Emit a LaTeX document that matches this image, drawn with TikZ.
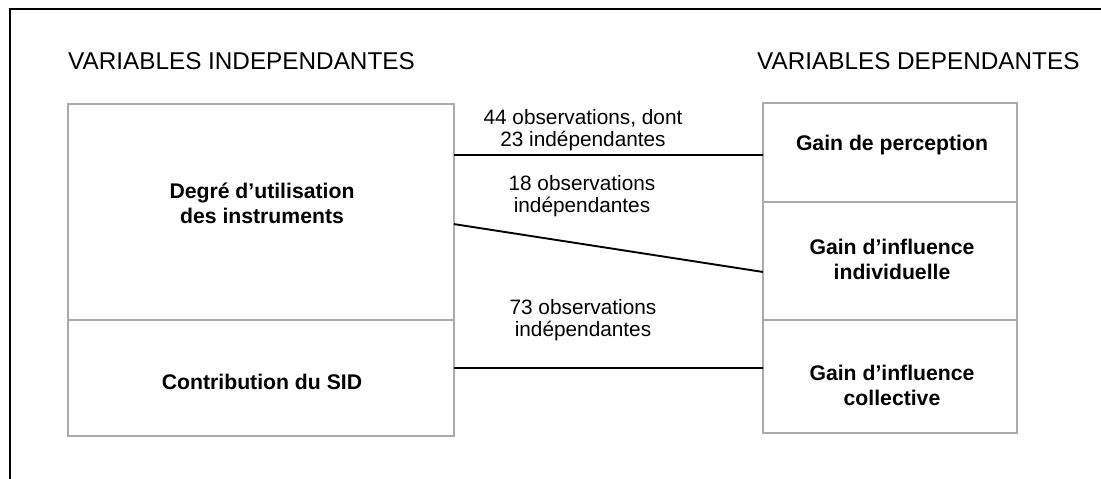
\documentclass[tikz,border=0pt]{standalone}
\usepackage{fontspec}
\setmainfont{Liberation Sans}
\usetikzlibrary{calc}
\definecolor{boxgray}{HTML}{ABABAB}
\begin{document}
\begin{tikzpicture}[x=1pt,y=-1pt,
  cell/.style={draw=boxgray, line width=2.8pt, rectangle, inner sep=0pt, outer sep=0pt},
  header/.style={font=\fontsize{24.3}{28}\selectfont, anchor=base west, inner sep=0pt},
  boxtext/.style={font=\fontsize{21.2}{25}\selectfont\bfseries, align=center, inner sep=0pt},
  obs/.style={font=\fontsize{20.8}{22}\selectfont, align=center, inner sep=0pt},
  link/.style={draw=black, line width=1.9pt}
]
\useasboundingbox (0,0) rectangle (1101,479);

% frame (top and left edges)
\coordinate (frameA) at (10,479);
\coordinate (frameB) at (10,9);
\coordinate (frameC) at (1101,9);
\draw[line width=1.8pt] (frameA) -- (frameB) -- (frameC);

% headers
\node[header] (hindep) at (68,69) {VARIABLES INDEPENDANTES};
\node[header] (hdep) at (757,69) {VARIABLES DEPENDANTES};

% independent variables
\node[cell, minimum width=386pt, minimum height=216pt] (deg) at (261,212) {};
\node[cell, minimum width=386pt, minimum height=116pt] (sid) at (261,378) {};
\node[boxtext] (tdeg) at (262,203) {Degré d’utilisation\\des instruments};
\node[boxtext] (tsid) at (262,382) {Contribution du SID};

% dependent variables
\node[cell, minimum width=254pt, minimum height=99pt] (perc) at (890,152.5) {};
\node[cell, minimum width=254pt, minimum height=118pt] (indiv) at (890,261) {};
\node[cell, minimum width=254pt, minimum height=113pt] (coll) at (890,376.5) {};
\node[boxtext] (tperc) at (892,145) {Gain de perception};
\node[boxtext] (tindiv) at (892,259) {Gain d’influence\\individuelle};
\node[boxtext] (tcoll) at (892,385) {Gain d’influence\\collective};

% relations
\draw[link] ($(deg.north east)!0.236!(deg.south east)$) -- ($(perc.north west)!0.525!(perc.south west)$);
\draw[link] ($(deg.north east)!0.556!(deg.south east)$) -- ($(indiv.north west)!0.593!(indiv.south west)$);
\draw[link] ($(sid.north east)!0.414!(sid.south east)$) -- ($(coll.north west)!0.425!(coll.south west)$);

% relation labels
\node[obs] (o1) at (583,130) {44 observations, dont\\23 indépendantes};
\node[obs] (o2) at (582,196) {18 observations\\indépendantes};
\node[obs] (o3) at (583,320) {73 observations\\indépendantes};
\end{tikzpicture}
\end{document}
